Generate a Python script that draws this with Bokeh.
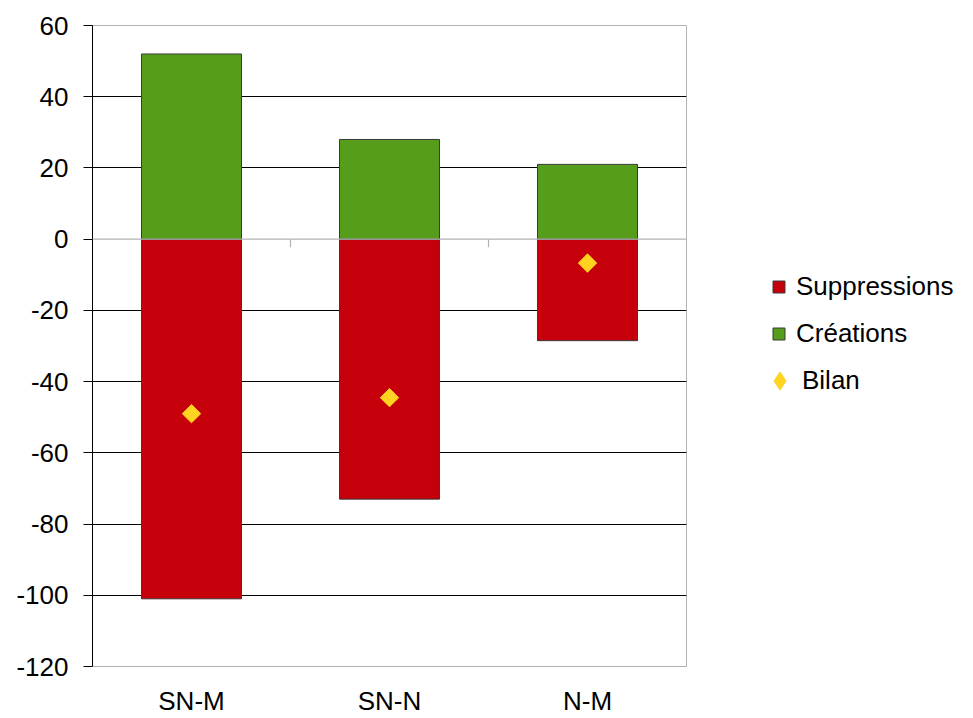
import math
from bokeh.plotting import figure
from bokeh.layouts import row
from bokeh.models import (ColumnDataSource, Range1d, FixedTicker, Span, Legend,
                          LegendItem, FactorRange)
from bokeh.transform import dodge
from bokeh.embed import file_html
from bokeh.resources import INLINE

categories = ["SN-M", "SN-N", "N-M"]
suppressions = [-101, -73, -28.5]
creations = [52, 28, 21]
bilan = [-49, -44.5, -6.7]
y_ticks = [-120, -100, -80, -60, -40, -20, 0, 20, 40, 60]
legend_labels = ["Suppressions", "Créations", "Bilan"]

FONT = "Liberation Sans"
FS = "26px"
RED = "#C5000B"
GREEN = "#579D1C"
YELLOW = "#FFD320"
EDGE = "#3a3a3a"

src = ColumnDataSource(dict(cat=categories, sup=suppressions, cre=creations,
                            bil=bilan, zero=[0] * len(categories)))

p = figure(width=708, height=718, x_range=FactorRange(*categories),
           y_range=Range1d(-120, 60), output_backend="svg", toolbar_location=None,
           min_border_left=92, min_border_right=22, min_border_top=25,
           min_border_bottom=52)
p.x_range.range_padding = 0
p.background_fill_color = "white"
p.border_fill_color = "white"
p.outline_line_color = "#b3b3b3"
p.outline_line_width = 1

# grid
p.xgrid.grid_line_color = None
p.ygrid.ticker = FixedTicker(ticks=[t for t in y_ticks if t not in (-120, 0, 60)])
p.ygrid.grid_line_color = "black"
p.ygrid.grid_line_width = 1

# y axis
p.yaxis.ticker = FixedTicker(ticks=y_ticks)
p.yaxis.major_label_overrides = {t: str(t) for t in y_ticks}
p.yaxis.axis_line_color = "black"
p.yaxis.major_tick_line_color = "black"
p.yaxis.major_tick_out = 9
p.yaxis.major_tick_in = 0
p.yaxis.minor_tick_line_color = None
p.yaxis.major_label_standoff = 15
p.yaxis.major_label_text_font = FONT
p.yaxis.major_label_text_font_size = FS
p.yaxis.major_label_text_color = "black"

# x axis
p.xaxis.axis_line_color = None
p.xaxis.major_tick_line_color = None
p.xaxis.minor_tick_line_color = None
p.xaxis.major_label_standoff = 13
p.xaxis.major_label_text_font = FONT
p.xaxis.major_label_text_font_size = FS
p.xaxis.major_label_text_color = "black"

p.vbar(x="cat", top="sup", bottom=0, width=0.505, source=src,
       fill_color=RED, line_color=EDGE, line_width=1)
p.vbar(x="cat", top="cre", bottom=0, width=0.505, source=src,
       fill_color=GREEN, line_color=EDGE, line_width=1)

# zero line (category axis)
p.add_layout(Span(location=0, dimension="width", line_color="#b3b3b3", line_width=1.2))
p.segment(x0=dodge("cat", 0.5, range=p.x_range), x1=dodge("cat", 0.5, range=p.x_range),
          y0="zero", y1=-2.3, source=ColumnDataSource(dict(cat=categories[:-1],
                                                          zero=[0] * (len(categories) - 1))),
          line_color="#b3b3b3", line_width=1.2)

p.scatter(x="cat", y="bil", source=src, marker="square", size=13,
          angle=math.pi / 4, fill_color=YELLOW, line_color=YELLOW)

# legend panel (its dummy glyphs lie outside the visible range)
lg = figure(width=265, height=718, output_backend="svg", toolbar_location=None,
            x_range=Range1d(0, 1), y_range=Range1d(0, 1),
            x_axis_location=None, y_axis_location=None,
            min_border=0, outline_line_color=None)
lg.grid.visible = False
off = ColumnDataSource(dict(x=[5], y=[5], t=[6]))
l_sup = lg.vbar(x="x", top="t", bottom="y", width=1, source=off, fill_color=RED, line_color=EDGE)
l_cre = lg.vbar(x="x", top="t", bottom="y", width=1, source=off, fill_color=GREEN, line_color=EDGE)
l_bil = lg.scatter(x="x", y="y", source=off, marker="diamond", size=11,
                   fill_color=YELLOW, line_color=YELLOW)


def style(leg):
    leg.border_line_color = None
    leg.background_fill_alpha = 0
    leg.label_text_font = FONT
    leg.label_text_font_size = FS
    leg.label_text_color = "black"
    leg.label_height = 24
    leg.spacing = 16
    leg.padding = 0
    leg.margin = 0


legend = Legend(items=[LegendItem(label=legend_labels[0], renderers=[l_sup]),
                       LegendItem(label=legend_labels[1], renderers=[l_cre])],
                location=(63, 317))
style(legend)
legend.glyph_width = 15
legend.glyph_height = 15
legend.label_standoff = 10
lg.add_layout(legend, "center")

legend_b = Legend(items=[LegendItem(label=legend_labels[2], renderers=[l_bil])],
                  location=(49, 263))
style(legend_b)
legend_b.glyph_width = 45
legend_b.glyph_height = 45
legend_b.label_standoff = -9
lg.add_layout(legend_b, "center")

layout = row(p, lg, spacing=0)
open("out.html", "w").write(file_html(layout, INLINE))
